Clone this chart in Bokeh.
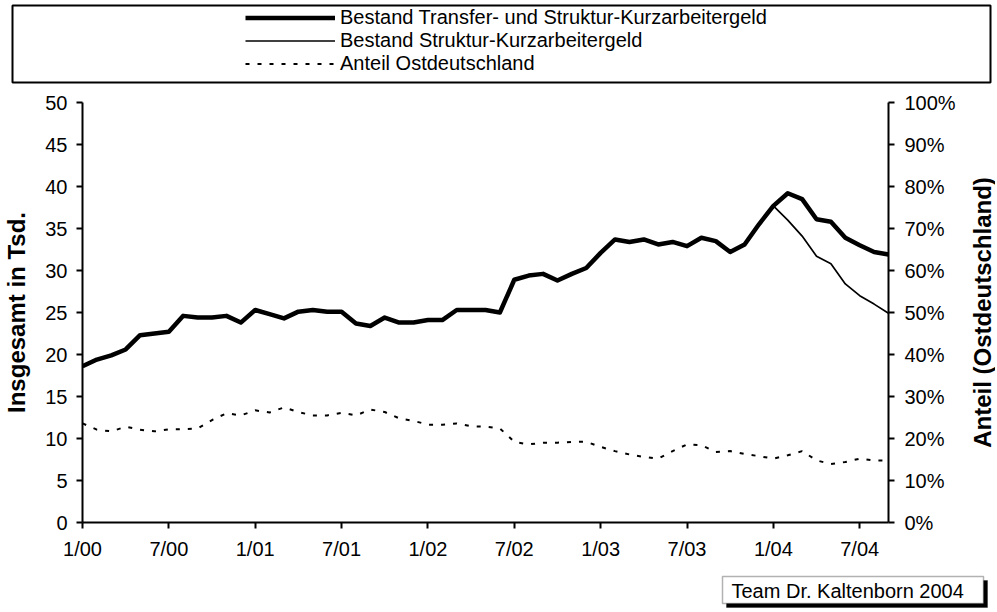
from bokeh.plotting import figure
from bokeh.layouts import column, row
from bokeh.models import (Range1d, LinearAxis, FixedTicker, PrintfTickFormatter, Legend,
                          LegendItem, BoxAnnotation, Label, ColumnDataSource)
from bokeh.embed import file_html
from bokeh.resources import INLINE

FONT = "Liberation Sans"

# ---- data (monthly, 1/00 .. 9/04) ----
months = list(range(57))
x_tick_positions = [0, 6, 12, 18, 24, 30, 36, 42, 48, 54]
x_tick_labels = ["1/00", "7/00", "1/01", "7/01", "1/02", "7/02", "1/03", "7/03", "1/04", "7/04"]

bestand_transfer_struktur = [
    18.6, 19.4, 19.9, 20.6, 22.3, 22.5, 22.7, 24.6, 24.4, 24.4,
    24.6, 23.8, 25.3, 24.8, 24.3, 25.1, 25.3, 25.1, 25.1, 23.7,
    23.4, 24.4, 23.8, 23.8, 24.1, 24.1, 25.3, 25.3, 25.3, 25.0,
    28.9, 29.4, 29.6, 28.8, 29.6, 30.3, 32.1, 33.7, 33.4, 33.7,
    33.1, 33.4, 32.9, 33.9, 33.5, 32.2, 33.1, 35.5, 37.7, 39.2,
    38.5, 36.1, 35.8, 33.9, 33.0, 32.2, 31.9]

bestand_struktur = [
    18.6, 19.4, 19.9, 20.6, 22.3, 22.5, 22.7, 24.6, 24.4, 24.4,
    24.6, 23.8, 25.3, 24.8, 24.3, 25.1, 25.3, 25.1, 25.1, 23.7,
    23.4, 24.4, 23.8, 23.8, 24.1, 24.1, 25.3, 25.3, 25.3, 25.0,
    28.9, 29.4, 29.6, 28.8, 29.6, 30.3, 32.1, 33.7, 33.4, 33.7,
    33.1, 33.4, 32.9, 33.9, 33.5, 32.2, 33.1, 35.5, 37.7, 36.0,
    34.1, 31.7, 30.8, 28.4, 27.0, 26.0, 24.9]

anteil_ost = [
    23.6, 22.1, 21.7, 22.8, 22.1, 21.7, 22.2, 22.2, 22.4, 24.4,
    26.0, 25.5, 26.7, 26.2, 27.4, 26.3, 25.5, 25.5, 26.1, 25.5,
    26.9, 26.3, 24.8, 24.2, 23.3, 23.3, 23.6, 22.9, 22.8, 22.4,
    19.2, 18.6, 19.0, 19.0, 19.2, 19.2, 18.0, 17.0, 16.2, 15.6,
    15.2, 17.0, 18.6, 18.4, 16.8, 17.0, 16.3, 15.8, 15.2, 16.0,
    17.0, 14.8, 13.9, 14.4, 15.2, 14.8, 14.7]

legend_labels = ["Bestand Transfer- und Struktur-Kurzarbeitergeld",
                 "Bestand Struktur-Kurzarbeitergeld",
                 "Anteil Ostdeutschland"]
y_left_title = "Insgesamt in Tsd."
y_right_title = "Anteil (Ostdeutschland)"
source_text = "Team Dr. Kaltenborn 2004"

W = 995
W_MAIN = 965
H_MAIN = 479

thick = dict(line_width=4.5, line_color="black", line_join="round")
thin = dict(line_width=1.7, line_color="black", line_join="round")
dotted = dict(line_width=2, line_color="black", line_dash="4 8")

src = ColumnDataSource(dict(m=months, total=bestand_transfer_struktur,
                            struktur=bestand_struktur, anteil=anteil_ost))


def no_align(fig):
    if "frame_align" in fig.properties():
        fig.frame_align = False


# ---------------- legend panel ----------------
# (series are drawn here too, but fall outside this panel's 0..1 range: only the legend shows)
pl = figure(width=W, height=86, output_backend="svg", toolbar_location=None, title=None,
            x_range=Range1d(0, 1), y_range=Range1d(0, 1),
            x_axis_location=None, y_axis_location=None,
            min_border_left=12, min_border_right=W - 990, min_border_top=5, min_border_bottom=4)
no_align(pl)
pl.grid.visible = False
pl.outline_line_color = "black"
pl.outline_line_width = 2
pl.outline_line_alpha = 1
lr1 = pl.line("m", "total", source=src, **thick)
lr2 = pl.line("m", "struktur", source=src, **thin)
lr3 = pl.line("m", "anteil", source=src, **dotted)
legend = Legend(items=[LegendItem(label=legend_labels[0], renderers=[lr1]),
                       LegendItem(label=legend_labels[1], renderers=[lr2]),
                       LegendItem(label=legend_labels[2], renderers=[lr3])],
                location=(233, 7), orientation="vertical",
                glyph_width=90, glyph_height=23, label_height=23, label_standoff=5,
                spacing=0, padding=0, margin=0,
                border_line_alpha=0, background_fill_alpha=0,
                label_text_font=FONT, label_text_font_size="20px", label_text_color="black")
pl.add_layout(legend, "center")

# ---------------- main chart ----------------
p = figure(width=W_MAIN, height=H_MAIN, output_backend="svg", toolbar_location=None, title=None,
           x_range=Range1d(0, 56), y_range=Range1d(0, 50),
           min_border_left=82, min_border_right=W_MAIN - 888, min_border_top=16, min_border_bottom=43)
no_align(p)
p.outline_line_color = None
p.grid.visible = False
p.extra_y_ranges = {"pct": Range1d(0, 100)}

right = LinearAxis(y_range_name="pct")
p.add_layout(right, "right")

for ax in (p.xaxis[0], p.yaxis[0], right):
    ax.axis_line_width = 2
    ax.axis_line_color = "black"
    ax.major_tick_line_width = 2
    ax.major_tick_line_color = "black"
    ax.major_tick_in = 0
    ax.major_tick_out = 6
    ax.minor_tick_in = 0
    ax.minor_tick_out = 0
    ax.major_label_text_font = FONT
    ax.major_label_text_font_size = "20px"
    ax.major_label_text_color = "black"
    ax.major_label_standoff = 9
    ax.axis_label_text_font = FONT
    ax.axis_label_text_font_size = "24px"
    ax.axis_label_text_font_style = "bold"
    ax.axis_label_text_color = "black"

p.xaxis[0].ticker = FixedTicker(ticks=x_tick_positions)
p.xaxis[0].major_label_overrides = {pos: lab for pos, lab in zip(x_tick_positions, x_tick_labels)}
p.yaxis[0].ticker = FixedTicker(ticks=list(range(0, 51, 5)))
p.yaxis[0].axis_label = y_left_title
p.yaxis[0].axis_label_standoff = 12
right.ticker = FixedTicker(ticks=list(range(0, 101, 10)))
right.formatter = PrintfTickFormatter(format="%d%%")
right.major_label_standoff = 10

p.line("m", "total", source=src, **thick)
p.line("m", "struktur", source=src, **thin)
p.line("m", "anteil", source=src, y_range_name="pct", **dotted)

# ---------------- right-hand axis title (reads bottom-to-top like the left one) ----------------
pr = figure(width=W - W_MAIN, height=H_MAIN, output_backend="svg", toolbar_location=None, title=None,
            x_range=Range1d(0, 1), y_range=Range1d(0, 100),
            x_axis_location=None, y_axis_location="left",
            min_border_left=0, min_border_right=0, min_border_top=16, min_border_bottom=43)
no_align(pr)
pr.outline_line_color = None
pr.grid.visible = False
ya = pr.yaxis[0]
ya.ticker = FixedTicker(ticks=[])
ya.axis_line_color = None
ya.major_tick_line_color = None
ya.minor_tick_line_color = None
ya.major_tick_in = 0
ya.major_tick_out = 0
ya.minor_tick_in = 0
ya.minor_tick_out = 0
ya.major_label_standoff = 0
ya.axis_label = y_right_title
ya.axis_label_standoff = 0
ya.axis_label_text_font = FONT
ya.axis_label_text_font_size = "24px"
ya.axis_label_text_font_style = "bold"
ya.axis_label_text_color = "black"

# ---------------- source note ----------------
pt = figure(width=W, height=45, output_backend="svg", toolbar_location=None, title=None,
            x_range=Range1d(0, 1), y_range=Range1d(0, 1),
            x_axis_location=None, y_axis_location=None,
            min_border_left=0, min_border_right=0, min_border_top=0, min_border_bottom=0)
no_align(pt)
pt.grid.visible = False
pt.outline_line_color = None
pt.add_layout(BoxAnnotation(left=726, right=987, top=30, bottom=3,
                            left_units="screen", right_units="screen",
                            top_units="screen", bottom_units="screen",
                            fill_color="black", fill_alpha=1, line_color="black", line_width=1))
pt.add_layout(BoxAnnotation(left=722, right=983, top=34, bottom=7,
                            left_units="screen", right_units="screen",
                            top_units="screen", bottom_units="screen",
                            fill_color="white", fill_alpha=1, line_color="black", line_width=1.5))
pt.add_layout(Label(x=731, y=20, x_units="screen", y_units="screen",
                    text=source_text, text_font=FONT, text_font_size="20px",
                    text_color="black", text_baseline="middle"))

layout = column(pl, row(p, pr, spacing=0), pt, spacing=0)
open("out.html", "w").write(file_html(layout, INLINE))
